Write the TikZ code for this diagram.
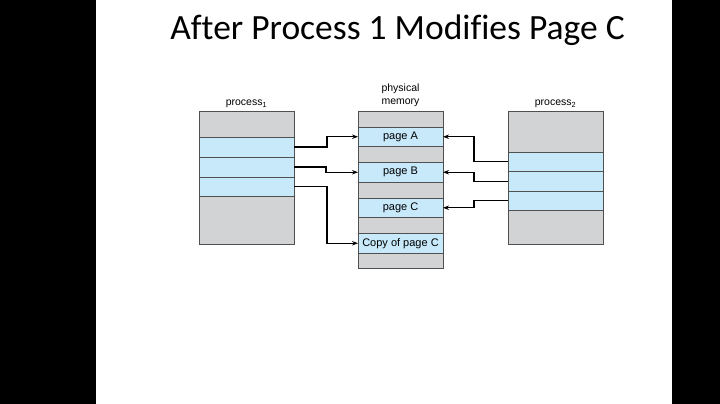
\documentclass[tikz,border=0pt]{standalone}
\usepackage{fontspec}
\setmainfont{Liberation Sans}
\newfontfamily\titlefont[Ligatures=NoCommon]{Carlito}
\usetikzlibrary{positioning,arrows.meta}

\definecolor{pagegray}{RGB}{209,211,212}
\definecolor{pageblue}{RGB}{199,233,250}
\definecolor{edgegray}{RGB}{80,80,80}

\tikzset{
  free/.style={draw=edgegray, fill=pagegray, line width=0.8pt, inner sep=0pt, outer sep=0pt},
  used/.style={free, fill=pageblue, font=\fontsize{11}{13}\selectfont},
  proc/.style={minimum width=95pt},
  mem/.style={minimum width=85pt},
  caption/.style={inner sep=0pt, font=\fontsize{10.5}{12.5}\selectfont, align=center},
  link/.style={line width=1.2pt, -{Stealth[length=6pt,width=4.5pt]}}
}

\begin{document}
\begin{tikzpicture}[x=1pt, y=-1pt]
\useasboundingbox (0,0) rectangle (720,404);
\fill[white] (0,0) rectangle (720,404);
\fill[black] (0,0) rectangle (96,404);
\fill[black] (672,0) rectangle (720,404);

\node (title) [font=\titlefont\fontsize{35.5}{42}\selectfont, anchor=base] at (397.5,40) {After Process 1 Modifies Page C};

% process 1
\node (p1a) [free, proc, minimum height=26pt, anchor=north west] at (199,111) {};
\node (p1b) [used, proc, minimum height=20pt, below=0pt of p1a] {};
\node (p1c) [used, proc, minimum height=20pt, below=0pt of p1b] {};
\node (p1d) [used, proc, minimum height=19pt, below=0pt of p1c] {};
\node (p1e) [free, proc, minimum height=48pt, below=0pt of p1d] {};
\node (lab1) [caption, above=3pt of p1a] {process\textsubscript{1}};

% physical memory
\node (m1) [free, mem, minimum height=16pt, anchor=north west] at (358,111) {};
\node (pgA) [used, mem, minimum height=19.5pt, below=0pt of m1] {page A};
\node (m2) [free, mem, minimum height=16pt, below=0pt of pgA] {};
\node (pgB) [used, mem, minimum height=19.5pt, below=0pt of m2] {page B};
\node (m3) [free, mem, minimum height=16pt, below=0pt of pgB] {};
\node (pgC) [used, mem, minimum height=19.5pt, below=0pt of m3] {page C};
\node (m4) [free, mem, minimum height=16pt, below=0pt of pgC] {};
\node (cpC) [used, mem, minimum height=19.5pt, below=0pt of m4] {Copy of page C};
\node (m5) [free, mem, minimum height=15pt, below=0pt of cpC] {};
\node (labm) [caption, above=4.5pt of m1] {physical\\memory};

% process 2
\node (p2a) [free, proc, minimum height=41pt, anchor=north west] at (508,111) {};
\node (p2b) [used, proc, minimum height=19.5pt, below=0pt of p2a] {};
\node (p2c) [used, proc, minimum height=19.5pt, below=0pt of p2b] {};
\node (p2d) [used, proc, minimum height=19.5pt, below=0pt of p2c] {};
\node (p2e) [free, proc, minimum height=34pt, below=0pt of p2d] {};
\node (lab2) [caption, above=3pt of p2a] {process\textsubscript{2}};

\draw[link] (p1b.east) -- ++(33,0) |- (pgA.west);
\draw[link] (p1c.east) -- ++(32,0) |- (pgB.west);
\draw[link] (p1d.east) -- ++(33,0) |- (cpC.west);

\draw[link] (p2b.west) -- ++(-34,0) |- (pgA.east);
\draw[link] (p2c.west) -- ++(-34,0) |- (pgB.east);
\draw[link] (p2d.west) -- ++(-34,0) |- (pgC.east);

\end{tikzpicture}
\end{document}
